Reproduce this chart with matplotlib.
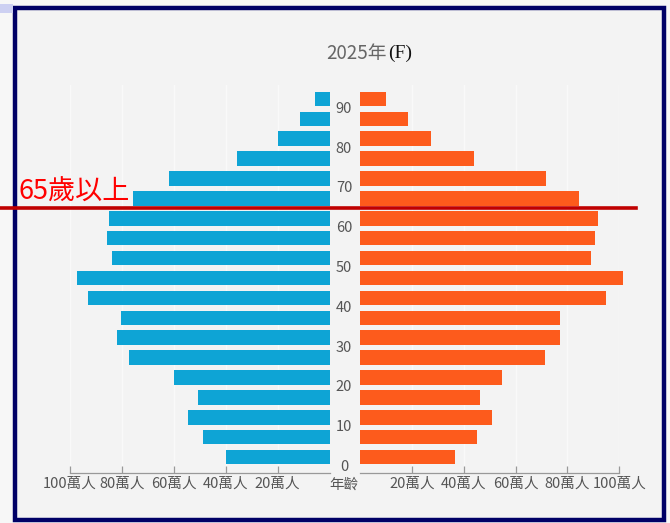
import numpy as np
import matplotlib.pyplot as plt
from matplotlib import transforms
from matplotlib.lines import Line2D
from matplotlib.patches import Rectangle

plt.rcParams['font.family'] = ['Noto Sans CJK TC', 'DejaVu Sans']

# ── data (萬人) ────────────────────────────────────────────────────
age_start = [0, 5, 10, 15, 20, 25, 30, 35, 40, 45, 50, 55, 60, 65, 70, 75, 80, 85, 90]
male = [40.0, 48.6, 54.7, 50.7, 59.9, 77.2, 82.0, 80.4, 93.0, 97.4,
        84.0, 85.9, 85.1, 75.9, 61.8, 35.5, 19.7, 11.5, 5.8]
female = [36.8, 45.1, 50.8, 46.2, 54.9, 71.5, 77.2, 77.3, 94.7, 101.4,
          89.0, 90.6, 91.7, 84.5, 71.9, 43.8, 27.3, 18.6, 10.0]
age_ticks = [0, 10, 20, 30, 40, 50, 60, 70, 80, 90]
pop_ticks = [20, 40, 60, 80, 100]
pop_labels = ['20萬人', '40萬人', '60萬人', '80萬人', '100萬人']
senior_age = 65

W, H = 670, 523
BLUE = '#0ea4d5'
ORANGE = '#fd5b1c'
GREY = '#555555'

fig = plt.figure(figsize=(W / 100, H / 100), dpi=100)
fig.patch.set_facecolor('#f7f7f7')

# frame
fig.add_artist(Rectangle((15 / W, 1 - 520 / H), 649 / W, 512 / H,
                         transform=fig.transFigure, facecolor='#f3f3f3',
                         edgecolor='#000066', lw=3.2, zorder=0))
fig.add_artist(Rectangle((0, 1 - 13 / H), 13 / W, 9 / H,
                         transform=fig.transFigure, facecolor='#cdd0f2',
                         edgecolor='none', zorder=0))


def px_axes(x0, x1, y0, y1):
    return fig.add_axes([x0 / W, 1 - y1 / H, (x1 - x0) / W, (y1 - y0) / H])


axL = px_axes(70, 329.6, 85, 473)
axR = px_axes(360, 619.3, 85, 473)

y = np.array(age_start) + 2.5
for ax, vals, color in [(axL, male, BLUE), (axR, female, ORANGE)]:
    ax.set_facecolor('none')
    ax.barh(y, vals, height=3.64, color=color, zorder=3, clip_on=False)
    ax.set_ylim(-1.5, 96)
    ax.set_yticks([])
    for s in ['top', 'left', 'right']:
        ax.spines[s].set_visible(False)
    ax.spines['bottom'].set_color('#999999')
    ax.spines['bottom'].set_linewidth(0.9)
    ax.set_xticks(pop_ticks)
    ax.set_xticklabels(pop_labels)
    ax.tick_params(axis='x', direction='in', length=5, width=0.9,
                   color='#999999', labelcolor=GREY, labelsize=10.5, pad=3)
    for t in pop_ticks:
        ax.axvline(t, color='#f9f9f9', lw=1, zorder=1)

axL.set_xlim(100, 0)
axR.set_xlim(0, 100)

# age labels in the middle
mid = transforms.blended_transform_factory(fig.transFigure, axR.transData)
for a in age_ticks:
    fig.text(344 / W, a, str(a), transform=mid, ha='center', va='center',
             color=GREY, fontsize=10.5)
fig.text(344 / W, 1 - 485 / H, '年齡', ha='center', va='center',
         color=GREY, fontsize=10.5)

# title
fig.text(387 / W, 1 - 53 / H, '2025年', ha='right', va='center',
         color='#666666', fontsize=13.5)
fig.text(388 / W, 1 - 53 / H, '(F)', ha='left', va='center',
         color='#111111', fontsize=14, family='Liberation Serif')

# 65+ marker
fig.add_artist(Line2D([0, 636 / W], [senior_age, senior_age], transform=mid,
                      color='#c00000', lw=2.6, zorder=5))
fig.text(19 / W, 1 - 200 / H, '65歲以上', ha='left', va='baseline',
         color='#ff0000', fontsize=19.5)

fig.savefig('out.png', dpi=100, facecolor=fig.get_facecolor())
